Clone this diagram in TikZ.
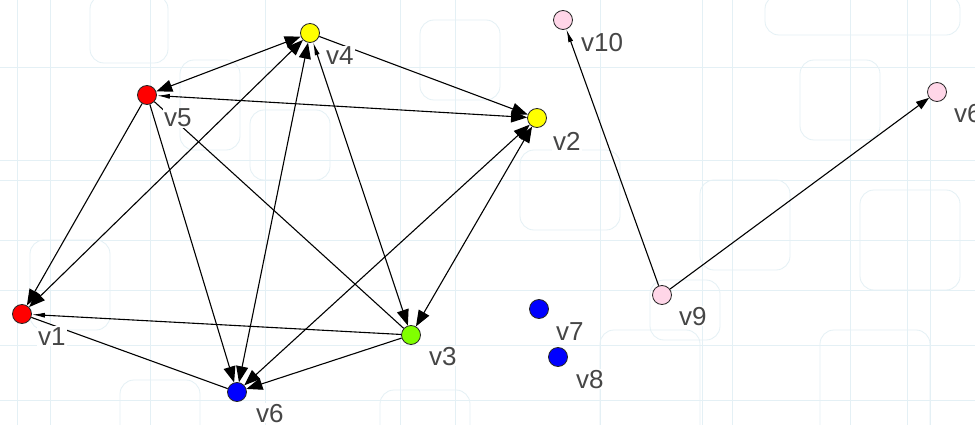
\documentclass[tikz,border=0pt]{standalone}
\usepackage{fontspec}
\setmainfont{Liberation Sans}
\usetikzlibrary{arrows.meta}
\definecolor{bgline}{RGB}{228,240,245}
\definecolor{vred}{RGB}{255,0,0}
\definecolor{vyellow}{RGB}{255,255,0}
\definecolor{vgreen}{RGB}{128,255,0}
\definecolor{vblue}{RGB}{0,0,255}
\definecolor{vpink}{RGB}{255,214,232}
\definecolor{lblgray}{RGB}{70,70,70}
\tikzset{
  vtx/.style={circle, draw=black!85, line width=0.8pt, minimum size=19pt, inner sep=0pt},
  lbl/.style={anchor=base west, font=\fontsize{26}{26}\selectfont, text=lblgray, fill=white, inner sep=1pt},
  edge/.style={line width=1.1pt, black},
  bg/.style={bgline, line width=0.8pt},
  tri/.tip={Triangle[length=16pt,width=12pt]},
  stub/.tip={Latex[length=13pt,width=5pt]}
}
\begin{document}
\begin{tikzpicture}[x=1pt,y=-1pt]
\useasboundingbox (0,0) rectangle (975,425);
\fill[white] (0,0) rectangle (975,425);
% faint wallpaper
\foreach \xx in {17,50,150,265,400,455,600,702,732,850,907,930}
  \draw[bg] (\xx,0) -- (\xx,425);
\foreach \yy in {67,160,180,240,290,345,400}
  \draw[bg] (0,\yy) -- (975,\yy);
\foreach \a/\b/\c/\d in {90/-5/168/63, 250/110/330/180, 520/150/620/230, 700/180/790/270, 860/190/960/290, 650/280/720/340, 30/240/110/330, 380/390/470/440, 765/-5/960/35, 600/330/700/440, 180/60/240/150, 420/20/500/100, 120/380/200/440, 800/60/880/140, 820/330/930/440}
  \draw[bg, rounded corners=14pt] (\a,\b) rectangle (\c,\d);

% vertices
\node[vtx, fill=vyellow] (v4) at (310,33) {};
\node[vtx, fill=vred]    (v5) at (147,95) {};
\node[vtx, fill=vyellow] (v2) at (537,118) {};
\node[vtx, fill=vred]    (v1) at (22,314) {};
\node[vtx, fill=vgreen]  (v3) at (411,335) {};
\node[vtx, fill=vblue]   (v6) at (237,392) {};
\node[vtx, fill=vblue]   (v7) at (539,309) {};
\node[vtx, fill=vblue]   (v8) at (558,357) {};
\node[vtx, fill=vpink]   (v9) at (662,295) {};
\node[vtx, fill=vpink]   (v10) at (563,20) {};
\node[vtx, fill=vpink]   (v6b) at (937,92) {};

% edges
\draw[edge, tri-tri] (v5) -- (v4);
\draw[edge, tri-tri] (v1) -- (v4);
\draw[edge, -tri] (v5) -- (v1);
\draw[edge, stub-tri] (v5) -- (v2);
\draw[edge, -tri] (v4) -- (v2);
\draw[edge, -tri] (v5) -- (v6);
\draw[edge, tri-tri] (v4) -- (v6);
\draw[edge, stub-tri] (v4) -- (v3);
\draw[edge] (v5) -- (v3);
\draw[edge, tri-tri] (v2) -- (v3);
\draw[edge, tri-tri] (v2) -- (v6);
\draw[edge, -tri] (v3) -- (v6);
\draw[edge, stub-] (v1) -- (v3);
\draw[edge] (v1) -- (v6);
\draw[edge, -stub] (v9) -- (v10);
\draw[edge, -{Triangle[length=13pt,width=9pt]}] (v9) -- (v6b);

% labels
\node[lbl] (l4) at (325,65) {v4};
\node[lbl] (l5) at (163,127) {v5};
\node[lbl] (l2) at (552,150) {v2};
\node[lbl] (l10) at (580,52) {v10};
\node[lbl] (l6b) at (953,123) {v6};
\node[lbl] (l9) at (678,325) {v9};
\node[lbl] (l7) at (555,340) {v7};
\node[lbl] (l8) at (575,388) {v8};
\node[lbl] (l1) at (37,345) {v1};
\node[lbl] (l3) at (428,365) {v3};
\node[lbl] (l6) at (255,422) {v6};
\end{tikzpicture}
\end{document}
